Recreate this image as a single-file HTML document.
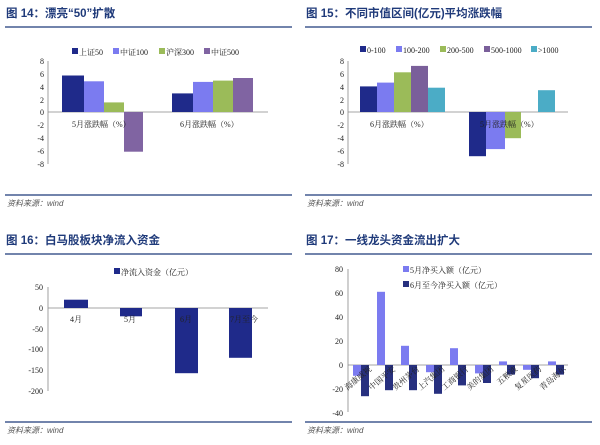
<!DOCTYPE html>
<html><head><meta charset="utf-8"><style>
body{margin:0;background:#fff;width:600px;height:440px;overflow:hidden}
svg text{font-family:"Liberation Serif","Noto Serif CJK SC",serif;font-size:8px;fill:#222}
.t{font-family:"Liberation Sans","Noto Sans CJK SC",sans-serif;font-size:11.5px;font-weight:bold;fill:#1f3a7a}
.s{font-family:"Liberation Sans","Noto Sans CJK SC",sans-serif;font-size:8px;font-style:italic;fill:#555}
</style></head><body>
<svg width="600" height="440" xmlns="http://www.w3.org/2000/svg">
<!-- Titles & rules -->
<text class="t" x="6" y="17">图 14：漂亮“50”扩散</text>
<text class="t" x="306" y="17">图 15：不同市值区间(亿元)平均涨跌幅</text>
<text class="t" x="6" y="244">图 16：白马股板块净流入资金</text>
<text class="t" x="306" y="244">图 17：一线龙头资金流出扩大</text>
<g stroke="#1f3a7a" stroke-width="1.3">
<line x1="5" y1="27" x2="292" y2="27"/><line x1="305" y1="27" x2="592" y2="27"/>
<line x1="5" y1="195" x2="292" y2="195"/><line x1="305" y1="195" x2="592" y2="195"/>
<line x1="5" y1="254" x2="292" y2="254"/><line x1="305" y1="254" x2="592" y2="254"/>
<line x1="5" y1="422" x2="292" y2="422"/><line x1="305" y1="422" x2="592" y2="422"/>
</g>
<text class="s" x="7" y="206">资料来源：wind</text>
<text class="s" x="307" y="206">资料来源：wind</text>
<text class="s" x="7" y="433">资料来源：wind</text>
<text class="s" x="307" y="433">资料来源：wind</text>

<!-- Chart 14 -->
<g>
<line x1="48" y1="61" x2="48" y2="164" stroke="#888" stroke-width="0.8"/>
<line x1="48" y1="112" x2="268" y2="112" stroke="#888" stroke-width="0.8"/>
<g text-anchor="end">
<text x="44" y="64">8</text><text x="44" y="77">6</text><text x="44" y="90">4</text><text x="44" y="103">2</text><text x="44" y="115">0</text><text x="44" y="128">-2</text><text x="44" y="141">-4</text><text x="44" y="154">-6</text><text x="44" y="167">-8</text></g>
<rect x="62" y="75.5" width="22" height="36.5" fill="#1f2a8a"/>
<rect x="84" y="81.3" width="20" height="30.7" fill="#7b7bf0"/>
<rect x="104" y="102.4" width="20" height="9.6" fill="#9bbb59"/>
<rect x="124" y="112" width="19" height="39.7" fill="#8064a2"/>
<rect x="172" y="93.4" width="21" height="18.6" fill="#1f2a8a"/>
<rect x="193" y="81.9" width="20" height="30.1" fill="#7b7bf0"/>
<rect x="213" y="80.6" width="20" height="31.4" fill="#9bbb59"/>
<rect x="233" y="78" width="20" height="34" fill="#8064a2"/>
<text x="72" y="127">5月涨跌幅（%）</text>
<text x="180" y="127">6月涨跌幅（%）</text>
<rect x="72" y="48" width="6" height="6" fill="#1f2a8a"/><text x="79" y="55">上证50</text>
<rect x="113" y="48" width="6" height="6" fill="#7b7bf0"/><text x="120" y="55">中证100</text>
<rect x="159" y="48" width="6" height="6" fill="#9bbb59"/><text x="166" y="55">沪深300</text>
<rect x="204" y="48" width="6" height="6" fill="#8064a2"/><text x="211" y="55">中证500</text>
</g>

<!-- Chart 15 -->
<g>
<line x1="348" y1="61" x2="348" y2="164" stroke="#888" stroke-width="0.8"/>
<line x1="348" y1="112" x2="568" y2="112" stroke="#888" stroke-width="0.8"/>
<g text-anchor="end">
<text x="344" y="64">8</text><text x="344" y="77">6</text><text x="344" y="90">4</text><text x="344" y="103">2</text><text x="344" y="115">0</text><text x="344" y="128">-2</text><text x="344" y="141">-4</text><text x="344" y="154">-6</text><text x="344" y="167">-8</text></g>
<rect x="360" y="86.4" width="17" height="25.6" fill="#1f2a8a"/>
<rect x="377" y="82.6" width="17" height="29.4" fill="#7b7bf0"/>
<rect x="394" y="72.3" width="17" height="39.7" fill="#9bbb59"/>
<rect x="411" y="65.9" width="17" height="46.1" fill="#7a5f9a"/>
<rect x="428" y="87.7" width="17" height="24.3" fill="#4bacc6"/>
<rect x="469" y="112" width="17" height="44.2" fill="#1f2a8a"/>
<rect x="486" y="112" width="19" height="37.1" fill="#7b7bf0"/>
<rect x="505" y="112" width="16" height="26.2" fill="#9bbb59"/>
<rect x="538" y="90.2" width="17" height="21.8" fill="#4bacc6"/>
<text x="370" y="127">6月涨跌幅（%）</text>
<text x="480" y="127">5月涨跌幅（%）</text>
<rect x="360" y="46" width="6" height="6" fill="#1f2a8a"/><text x="367" y="53">0-100</text>
<rect x="396" y="46" width="6" height="6" fill="#7b7bf0"/><text x="403" y="53">100-200</text>
<rect x="440" y="46" width="6" height="6" fill="#9bbb59"/><text x="447" y="53">200-500</text>
<rect x="484" y="46" width="6" height="6" fill="#7a5f9a"/><text x="491" y="53">500-1000</text>
<rect x="531" y="46" width="6" height="6" fill="#4bacc6"/><text x="538" y="53">&gt;1000</text>
</g>

<!-- Chart 16 -->
<g>
<line x1="48" y1="287" x2="48" y2="391" stroke="#888" stroke-width="0.8"/>
<line x1="48" y1="308" x2="268" y2="308" stroke="#888" stroke-width="0.8"/>
<g text-anchor="end">
<text x="43" y="290">50</text><text x="43" y="311">0</text><text x="43" y="332">-50</text><text x="43" y="352">-100</text><text x="43" y="373">-150</text><text x="43" y="394">-200</text></g>
<rect x="64" y="299.7" width="24" height="8.3" fill="#1f2a8a"/>
<rect x="120" y="308" width="22" height="8.3" fill="#1f2a8a"/>
<rect x="175" y="308" width="23" height="65.2" fill="#1f2a8a"/>
<rect x="229" y="308" width="23" height="49.8" fill="#1f2a8a"/>
<text x="70" y="322">4月</text><text x="124" y="322">5月</text><text x="180" y="322">6月</text><text x="230" y="322">7月至今</text>
<rect x="114" y="268" width="6" height="6" fill="#1f2a8a"/><text x="121" y="275">净流入资金（亿元）</text>
</g>

<!-- Chart 17 -->
<g>
<line x1="348" y1="269" x2="348" y2="412" stroke="#888" stroke-width="0.8"/>
<line x1="348" y1="365" x2="568" y2="365" stroke="#888" stroke-width="0.8"/>
<g text-anchor="end">
<text x="343" y="272">80</text><text x="343" y="296">60</text><text x="343" y="320">40</text><text x="343" y="344">20</text><text x="343" y="368">0</text><text x="343" y="392">-20</text><text x="343" y="416">-40</text></g>
<g fill="#7b7bf0">
<rect x="353" y="365" width="8" height="10.8"/>
<rect x="377" y="291.8" width="8" height="73.2"/>
<rect x="401" y="345.8" width="8" height="19.2"/>
<rect x="426" y="365" width="8" height="7.2"/>
<rect x="450" y="348.2" width="8" height="16.8"/>
<rect x="475" y="365" width="8" height="8.4"/>
<rect x="499" y="361.4" width="8" height="3.6"/>
<rect x="523" y="365" width="8" height="4.8"/>
<rect x="548" y="361.4" width="8" height="3.6"/>
</g>
<g fill="#27307f">
<rect x="361" y="365" width="8" height="31.2"/>
<rect x="385" y="365" width="8" height="25.2"/>
<rect x="409" y="365" width="8" height="25.2"/>
<rect x="434" y="365" width="8" height="28.8"/>
<rect x="458" y="365" width="8" height="20.4"/>
<rect x="483" y="365" width="8" height="18"/>
<rect x="507" y="365" width="8" height="9.6"/>
<rect x="531" y="365" width="8" height="13.2"/>
<rect x="556" y="365" width="8" height="9.6"/>
</g>
<g text-anchor="end">
<text transform="translate(372,370) rotate(-40)">海康威视</text>
<text transform="translate(396,370) rotate(-40)">中国平安</text>
<text transform="translate(420,370) rotate(-40)">贵州茅台</text>
<text transform="translate(445,370) rotate(-40)">上汽集团</text>
<text transform="translate(469,370) rotate(-40)">工商银行</text>
<text transform="translate(494,370) rotate(-40)">美的集团</text>
<text transform="translate(518,370) rotate(-40)">五粮液</text>
<text transform="translate(542,370) rotate(-40)">复星医药</text>
<text transform="translate(567,370) rotate(-40)">青岛海尔</text>
</g>
<rect x="403" y="266" width="6" height="6" fill="#7b7bf0"/><text x="410" y="273">5月净买入额（亿元）</text>
<rect x="403" y="281" width="6" height="6" fill="#27307f"/><text x="410" y="288">6月至今净买入额（亿元）</text>
</g>
</svg>
</body></html>
